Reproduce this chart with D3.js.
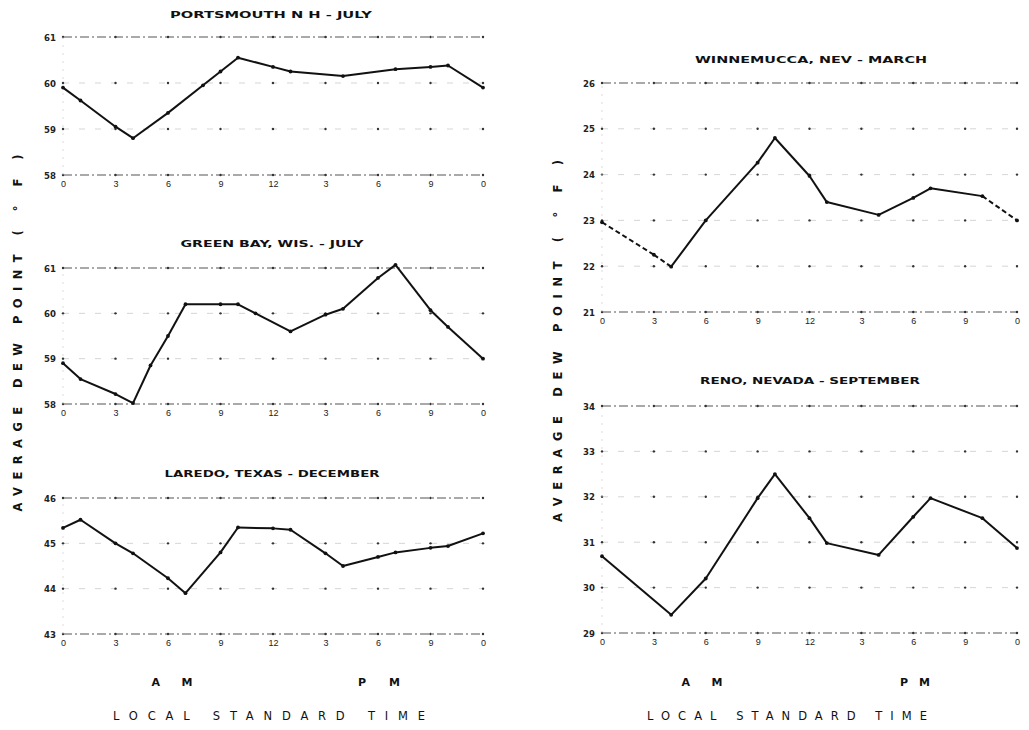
<!DOCTYPE html>
<html><head><meta charset="utf-8">
<script src="https://cdn.jsdelivr.net/npm/d3@7"></script>
<style>
body{margin:0;background:#fff;}
svg{display:block;font-family:"DejaVu Sans",sans-serif;}
</style></head>
<body><svg id="c" width="1029" height="730"></svg>
<script>
// ---------- data ----------
const hourTicks = [0,3,6,9,12,15,18,21,24];
const hourTickLabels = ["0","3","6","9","12","3","6","9","0"];

const titlePortsmouth = "PORTSMOUTH N H - JULY";
const hoursPortsmouth = [0,1,3,4,6,8,9,10,12,13,16,19,21,22,24];
const dewPortsmouth   = [59.9,59.62,59.05,58.8,59.35,59.95,60.25,60.55,60.35,60.25,60.15,60.3,60.35,60.38,59.9];
const yTicksPortsmouth = [58,59,60,61];

const titleGreenBay = "GREEN BAY, WIS. - JULY";
const hoursGreenBay = [0,1,3,4,5,6,7,9,10,11,13,15,16,18,19,21,22,24];
const dewGreenBay   = [58.9,58.55,58.22,58.02,58.85,59.5,60.2,60.2,60.2,60.0,59.6,59.97,60.1,60.78,61.07,60.07,59.7,59.0];
const yTicksGreenBay = [58,59,60,61];

const titleLaredo = "LAREDO, TEXAS - DECEMBER";
const hoursLaredo = [0,1,3,4,6,7,9,10,12,13,15,16,18,19,21,22,24];
const dewLaredo   = [45.34,45.52,45.0,44.78,44.23,43.9,44.8,45.35,45.33,45.3,44.78,44.5,44.7,44.8,44.9,44.94,45.22];
const yTicksLaredo = [43,44,45,46];

const titleWinnemucca = "WINNEMUCCA, NEV - MARCH";
const hoursWinnemucca = [0,3,4,6,9,10,12,13,16,18,19,22,24];
const dewWinnemucca   = [22.96,22.25,21.99,23.0,24.26,24.8,23.97,23.4,23.12,23.49,23.7,23.53,23.0];
const dashedWinnemucca = [[0,4],[22,24]]; // hour ranges drawn dashed
const yTicksWinnemucca = [21,22,23,24,25,26];

const titleReno = "RENO, NEVADA - SEPTEMBER";
const hoursReno = [0,4,6,9,10,12,13,16,18,19,22,24];
const dewReno   = [30.69,29.4,30.2,31.97,32.5,31.53,30.98,30.72,31.56,31.97,31.53,30.87];
const yTicksReno = [29,30,31,32,33,34];

const yAxisTitle = "AVERAGE DEW POINT ( ° F )";
const xAxisTitle = "LOCAL STANDARD TIME";

// ---------- drawing ----------
const svg = d3.select("#c");
const ink = "#111";

function panel(o){
  const x = d3.scaleLinear().domain([0,24]).range(o.xr);
  const y = d3.scaleLinear().domain(o.yd).range(o.yr);
  const g = svg.append("g");
  o.yTicks.forEach((t,i)=>{
    const edge = (i===0 || i===o.yTicks.length-1);
    g.append("line").attr("x1",x(0)).attr("x2",x(24)).attr("y1",y(t)).attr("y2",y(t))
      .attr("stroke", edge? "#555":"#c4c4c4").attr("stroke-width", edge?1.1:0.7)
      .attr("stroke-dasharray", edge? "9,3,2,3":"6,10");
    g.selectAll(null).data(hourTicks).enter().append("circle")
      .attr("cx",d=>x(d)).attr("cy",y(t)).attr("r",1.2).attr("fill","#333");
  });
  g.append("line").attr("x1",x(0)).attr("x2",x(0)).attr("y1",y(o.yd[0])).attr("y2",y(o.yd[1]))
    .attr("stroke","#ccc").attr("stroke-width",0.7).attr("stroke-dasharray","2,6");
  const ya = d3.axisLeft(y).tickValues(o.yTicks).tickSize(0).tickPadding(7).tickFormat(d3.format("d"));
  const yg = g.append("g").attr("transform",`translate(${x(0)},0)`).call(ya);
  yg.select(".domain").remove();
  yg.selectAll("text").attr("font-size",9.5).attr("font-weight","bold").attr("fill","#222")
    .attr("font-family","DejaVu Sans Condensed, DejaVu Sans");
  const xa = d3.axisBottom(x).tickValues(hourTicks).tickSize(0).tickPadding(6)
    .tickFormat((d,i)=>hourTickLabels[i]);
  const xg = g.append("g").attr("transform",`translate(0,${y(o.yd[0])})`).call(xa);
  xg.select(".domain").remove();
  xg.selectAll("text").attr("font-size",9).attr("fill","#222");
  g.append("text").attr("x",o.tx).attr("y",o.ty).attr("text-anchor","middle")
    .attr("font-size",9.5).attr("font-weight","bold").attr("fill",ink)
    .attr("textLength",o.tw).attr("lengthAdjust","spacingAndGlyphs").text(o.title);
  const pts = o.hours.map((h,i)=>[h,o.vals[i]]);
  const isDashed = (a,b)=> (o.dashed||[]).some(r=>a>=r[0] && b<=r[1]);
  const line = d3.line().x(d=>x(d[0])).y(d=>y(d[1]));
  for(let i=0;i<pts.length-1;i++){
    const seg=[pts[i],pts[i+1]];
    g.append("path").attr("d",line(seg)).attr("fill","none").attr("stroke",ink)
      .attr("stroke-width",2).attr("stroke-linejoin","round")
      .attr("stroke-dasharray", isDashed(seg[0][0],seg[1][0])? "5,3":null);
  }
  g.selectAll(null).data(pts).enter().append("circle")
    .attr("cx",d=>x(d[0])).attr("cy",d=>y(d[1])).attr("r",1.9).attr("fill",ink);
}

panel({xr:[63,483], yd:[58,61], yr:[175,37], yTicks:yTicksPortsmouth, hours:hoursPortsmouth, vals:dewPortsmouth,
       title:titlePortsmouth, tx:271, ty:18, tw:202});
panel({xr:[63,483], yd:[58,61], yr:[404,268], yTicks:yTicksGreenBay, hours:hoursGreenBay, vals:dewGreenBay,
       title:titleGreenBay, tx:272, ty:247, tw:183});
panel({xr:[63,483], yd:[43,46], yr:[634,498], yTicks:yTicksLaredo, hours:hoursLaredo, vals:dewLaredo,
       title:titleLaredo, tx:272, ty:477, tw:215});
panel({xr:[602,1017], yd:[21,26], yr:[312,83], yTicks:yTicksWinnemucca, hours:hoursWinnemucca, vals:dewWinnemucca,
       dashed:dashedWinnemucca, title:titleWinnemucca, tx:811, ty:63, tw:232});
panel({xr:[602,1017], yd:[29,34], yr:[633,406], yTicks:yTicksReno, hours:hoursReno, vals:dewReno,
       title:titleReno, tx:810, ty:384, tw:220});

[[172,"A M",41],[379,"P M",42],[702,"A M",41],[915,"P M",30]].forEach(d=>{
  svg.append("text").attr("x",d[0]).attr("y",686).attr("text-anchor","middle")
    .attr("font-size",11).attr("font-weight","bold").attr("fill",ink)
    .attr("textLength",d[2]).attr("lengthAdjust","spacing").text(d[1]);
});
[[269,312],[787,280]].forEach(d=>{
  svg.append("text").attr("x",d[0]).attr("y",720).attr("text-anchor","middle")
    .attr("font-size",11.5).attr("fill",ink)
    .attr("textLength",d[1]).attr("lengthAdjust","spacing").text(xAxisTitle);
});
[[22,333,357],[562,341,362]].forEach(d=>{
  svg.append("text").attr("transform",`translate(${d[0]},${d[1]}) rotate(-90)`)
    .attr("text-anchor","middle").attr("font-size",11.5).attr("font-weight","bold").attr("fill",ink)
    .attr("textLength",d[2]).attr("lengthAdjust","spacing").text(yAxisTitle);
});
</script></body></html>
